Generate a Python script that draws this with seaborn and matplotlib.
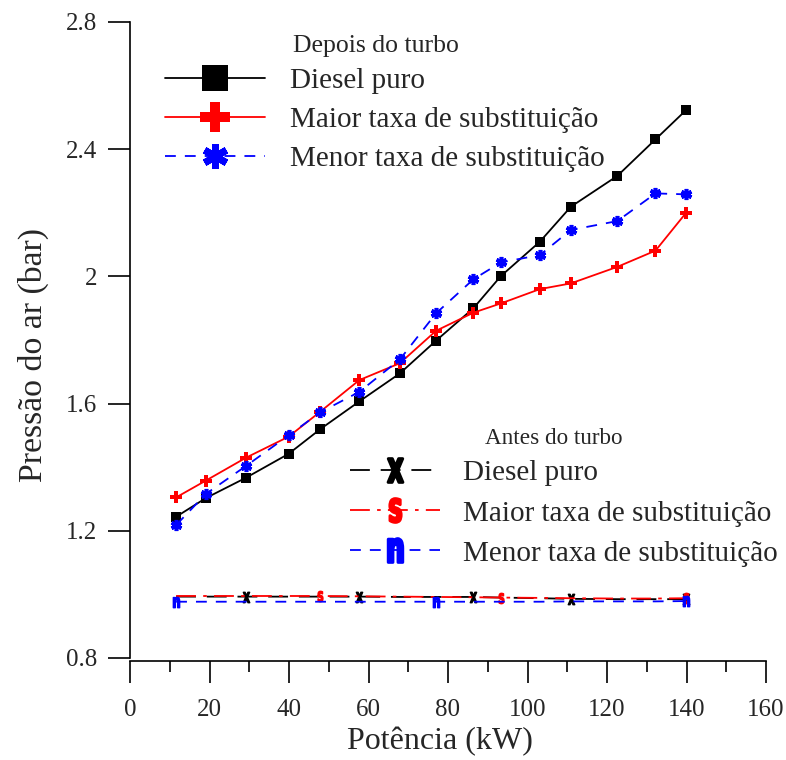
import numpy as np
import pandas as pd
import matplotlib
matplotlib.use("Agg")
import matplotlib.pyplot as plt
from matplotlib.lines import Line2D
from matplotlib.path import Path
from matplotlib.textpath import TextPath
from matplotlib.font_manager import FontProperties
from matplotlib.transforms import Affine2D
from matplotlib.ticker import MultipleLocator, FixedLocator, FixedFormatter
import seaborn as sns

# Potência (kW)
potencia = [11.6, 19.1, 29.2, 39.9, 47.9, 57.7, 67.9, 77.0, 86.4, 93.3,
            103.1, 110.9, 122.6, 132.2, 139.9]

# Pressão depois do turbo (bar)
depois_diesel = [1.244, 1.303, 1.367, 1.442, 1.520, 1.607, 1.695, 1.798, 1.900, 2.001,
                 2.109, 2.219, 2.316, 2.431, 2.523]
depois_maior = [1.305, 1.358, 1.430, 1.496, 1.575, 1.674, 1.727, 1.829, 1.886, 1.915,
                1.960, 1.978, 2.030, 2.081, 2.200]
depois_menor = [1.218, 1.316, 1.404, 1.500, 1.573, 1.637, 1.739, 1.884, 1.991, 2.044,
                2.067, 2.146, 2.174, 2.261, 2.258]

# Pressão antes do turbo (bar)
antes_diesel = [0.993, 0.993, 0.993, 0.993, 0.993, 0.993, 0.992, 0.992, 0.992, 0.990,
                0.988, 0.986, 0.985, 0.985, 0.985]
antes_maior = [0.995, 0.995, 0.995, 0.995, 0.995, 0.994, 0.993, 0.992, 0.991, 0.990,
               0.989, 0.988, 0.987, 0.987, 0.988]
antes_menor = [0.977, 0.977, 0.977, 0.977, 0.977, 0.977, 0.977, 0.977, 0.977, 0.977,
               0.977, 0.978, 0.978, 0.978, 0.979]

rotulos = ["Diesel puro", "Maior taxa de substituição", "Menor taxa de substituição"]
y_ticks = [0.8, 1.2, 1.6, 2.0, 2.4, 2.8]
y_tick_labels = ["0.8", "1.2", "1.6", "2", "2.4", "2.8"]
x_ticks = [0, 20, 40, 60, 80, 100, 120, 140, 160]

sns.set_theme(style="white")
plt.rcParams["font.family"] = ["Liberation Serif", "DejaVu Serif"]


def letra_marcador(ch, aperto=0.62):
    """Condensed bold glyph used as a marker, centred on the data point."""
    tp = TextPath((0, 0), ch, size=1,
                  prop=FontProperties(family="DejaVu Sans", weight="bold"))
    ext = tp.get_extents()
    cx, cy = (ext.x0 + ext.x1) / 2, (ext.y0 + ext.y1) / 2
    tr = Affine2D().translate(-cx, -cy).scale(aperto, 1.0)
    return Path(tr.transform(tp.vertices), tp.codes)


m_x = letra_marcador("X")
m_s = letra_marcador("S")
m_n = letra_marcador("n")
asterisco = (6, 2, 0)

fig = plt.figure(figsize=(7.86, 7.6), dpi=100)
W, H = 786, 760
ax = fig.add_axes([130 / W, 1 - 658 / H, 636 / W, 636 / H])

df = pd.DataFrame({"potencia": potencia,
                   "depois_diesel": depois_diesel, "depois_maior": depois_maior,
                   "depois_menor": depois_menor, "antes_diesel": antes_diesel,
                   "antes_maior": antes_maior, "antes_menor": antes_menor})

lw = 1.3
ls_azul = (0, (6, 5))
ls_preto_antes = (0, (11, 6))
ls_vermelho_antes = (0, (11, 4, 2, 4))

estilos = [
    ("depois_diesel", dict(color="black", linestyle="-", marker="s", markersize=7.5,
                           markeredgewidth=0)),
    ("depois_maior", dict(color="red", linestyle="-", marker="P", markersize=9,
                          markeredgewidth=0)),
    ("depois_menor", dict(color="blue", linestyle=ls_azul, marker=asterisco,
                          markersize=8, markeredgewidth=2.6, markeredgecolor="blue")),
    ("antes_diesel", dict(color="black", linestyle=ls_preto_antes, marker=m_x,
                          markersize=7.5, markeredgewidth=1.0, markeredgecolor="black",
                          markevery=(2, 3))),
    ("antes_maior", dict(color="red", linestyle=ls_vermelho_antes, marker=m_s,
                         markersize=7.5, markeredgewidth=1.0, markeredgecolor="red",
                         markevery=(4, 5))),
    ("antes_menor", dict(color="blue", linestyle=ls_azul, marker=m_n,
                         markersize=7.5, markeredgewidth=1.0, markeredgecolor="blue",
                         markevery=7)),
]

for col, kw in estilos:
    sns.lineplot(data=df, x="potencia", y=col, ax=ax, linewidth=lw, errorbar=None,
                 legend=False, **kw)

ax.set_xlim(0, 160)
ax.set_ylim(0.8, 2.8)
ax.xaxis.set_major_locator(FixedLocator(x_ticks))
ax.xaxis.set_minor_locator(MultipleLocator(10))
ax.yaxis.set_major_locator(FixedLocator(y_ticks))
ax.yaxis.set_major_formatter(FixedFormatter(y_tick_labels))

for side in ["top", "right"]:
    ax.spines[side].set_visible(False)
for side in ["left", "bottom"]:
    ax.spines[side].set_color("black")
    ax.spines[side].set_linewidth(1.2)
ax.spines["bottom"].set_position(("outward", 2))

ax.tick_params(axis="both", which="major", direction="out", length=15.5, width=1.2,
               color="black", labelsize=18, bottom=True, left=True)
ax.tick_params(axis="x", which="major", pad=12)
ax.tick_params(axis="y", which="major", pad=8)
ax.tick_params(axis="x", which="minor", direction="out", length=8, width=1.2,
               color="black", bottom=True)

ax.set_xlabel("Potência (kW)", fontsize=23)
ax.set_ylabel("Pressão do ar (bar)", fontsize=24.3)
ax.xaxis.set_label_coords(440 / W, 1 - 742 / H, transform=fig.transFigure)
ax.yaxis.set_label_coords(33 / W, 1 - 355 / H, transform=fig.transFigure)
ax.xaxis.label.set_va("center")
ax.yaxis.label.set_va("center")

# Legendas
handles_depois = [
    Line2D([], [], color="black", lw=lw, marker="s", markersize=19, markeredgewidth=0),
    Line2D([], [], color="red", lw=lw, marker="P", markersize=21, markeredgewidth=0),
    Line2D([], [], color="blue", lw=lw, linestyle=ls_azul, marker=asterisco,
           markersize=18, markeredgewidth=5, markeredgecolor="blue"),
]
handles_antes = [
    Line2D([], [], color="black", lw=lw, linestyle=ls_preto_antes, marker=m_x,
           markersize=17, markeredgewidth=2.2, markeredgecolor="black"),
    Line2D([], [], color="red", lw=lw, linestyle=ls_vermelho_antes, marker=m_s,
           markersize=17, markeredgewidth=2.2, markeredgecolor="red"),
    Line2D([], [], color="blue", lw=lw, linestyle=ls_azul, marker=m_n,
           markersize=17, markeredgewidth=2.2, markeredgecolor="blue"),
]

leg1 = ax.legend(handles_depois, rotulos, loc="upper left",
                 bbox_to_anchor=(165 / W, 1 - 68 / H), bbox_transform=fig.transFigure,
                 frameon=False, fontsize=21, handlelength=3.43, handletextpad=0.86,
                 labelspacing=0.42, borderpad=0, borderaxespad=0, numpoints=1)
ax.add_artist(leg1)
leg2 = ax.legend(handles_antes, rotulos, loc="upper left",
                 bbox_to_anchor=(350 / W, 1 - 460 / H), bbox_transform=fig.transFigure,
                 frameon=False, fontsize=21, handlelength=3.08, handletextpad=0.79,
                 labelspacing=0.47, borderpad=0, borderaxespad=0, numpoints=1)

fig.text(293 / W, 1 - 46 / H, "Depois do turbo", fontsize=18.5, ha="left", va="center")
fig.text(485 / W, 1 - 438 / H, "Antes do turbo", fontsize=16.7, ha="left", va="center")

fig.savefig("out.png", dpi=100)
